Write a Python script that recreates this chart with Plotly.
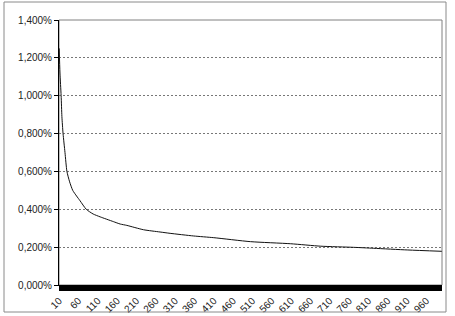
import plotly.graph_objects as go

# Values (category -> percent)
x_vals = [10, 12, 15, 17, 20, 25, 30, 37, 45, 55, 64, 80, 98, 116, 150, 168, 185,
          228, 271, 297, 358, 410, 505, 609, 687, 772, 824, 912, 1000]
y_vals = [1.25, 1.12, 1.00, 0.89, 0.80, 0.70, 0.60, 0.545, 0.50, 0.47, 0.445, 0.40,
          0.375, 0.36, 0.335, 0.322, 0.315, 0.292, 0.280, 0.273, 0.259, 0.250,
          0.229, 0.218, 0.205, 0.199, 0.194, 0.185, 0.178]

y_tickvals = [0, 0.2, 0.4, 0.6, 0.8, 1.0, 1.2, 1.4]
y_ticktext = ["0,000%", "0,200%", "0,400%", "0,600%", "0,800%", "1,000%", "1,200%", "1,400%"]

x_tickvals = list(range(10, 1000, 50))
x_ticktext = [str(v) for v in x_tickvals]

W, H = 455, 316
L, R, T, B = 59, 13, 20, 31
pw, ph = W - L - R, H - T - B

fig = go.Figure()
fig.add_trace(go.Scatter(x=x_vals, y=y_vals, mode="lines",
                         line=dict(color="#111111", width=1, shape="spline", smoothing=0.6),
                         hoverinfo="skip"))

font = dict(family="Liberation Sans, Arial, sans-serif", size=10, color="#222222")

fig.update_layout(
    width=W, height=H,
    margin=dict(l=L, r=R, t=T, b=B, autoexpand=False),
    paper_bgcolor="white", plot_bgcolor="white",
    showlegend=False,
    font=font,
    xaxis=dict(
        range=[9.5, 1000.5], showgrid=False, zeroline=False, automargin=False,
        tickmode="array", tickvals=x_tickvals, ticktext=x_ticktext,
        tickangle=-45, ticks="outside", ticklen=5, tickwidth=1, tickcolor="black",
        minor=dict(dtick=1, tick0=10, ticks="outside", ticklen=5, tickwidth=1,
                   tickcolor="black", showgrid=False),
        showline=True, linecolor="black", linewidth=1,
        tickfont=font,
    ),
    yaxis=dict(
        range=[0, 1.4], showgrid=True, gridcolor="#777777", gridwidth=1,
        griddash="2px,2px", zeroline=False, automargin=False,
        tickmode="array", tickvals=y_tickvals, ticktext=y_ticktext,
        ticks="outside", ticklen=4, tickcolor="black",
        showline=True, linecolor="black", linewidth=1,
        tickfont=font,
    ),
    shapes=[
        dict(type="rect", xref="paper", yref="paper", x0=0, y0=0, x1=1, y1=1,
             line=dict(color="#808080", width=1), layer="below"),
        dict(type="rect", xref="paper", yref="paper",
             x0=(4 - L) / pw, x1=(446 - L) / pw,
             y0=(H - B - 312) / ph, y1=(H - B - 2) / ph,
             line=dict(color="#8a8a8a", width=1)),
    ],
)

fig.write_html("out.html")
